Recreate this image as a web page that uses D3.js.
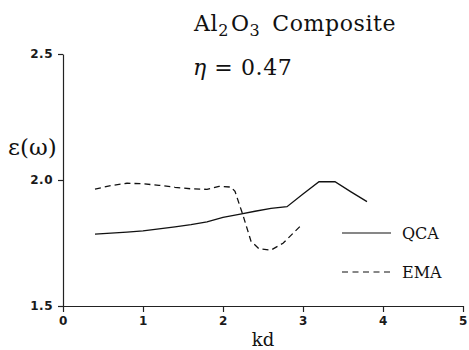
<!DOCTYPE html>
<html>
<head>
<meta charset="utf-8">
<script src="https://cdn.jsdelivr.net/npm/d3@7"></script>
<style>
  body { margin: 0; background: #fff; }
  .axis path, .axis line { stroke: #222; stroke-width: 1.2px; }
  .axis text { font-family: "DejaVu Sans", sans-serif; font-size: 12px; font-weight: bold; fill: #1a1a1a; letter-spacing: 0.5px; }
</style>
</head>
<body>
<svg id="chart"></svg>
<script>
// data
var kdQCA = [0.4, 0.6, 0.8, 1.0, 1.2, 1.4, 1.6, 1.8, 2.0, 2.2, 2.4, 2.6, 2.8, 3.0, 3.2, 3.4, 3.6, 3.8];
var epsQCA = [1.785, 1.789, 1.793, 1.798, 1.806, 1.814, 1.823, 1.834, 1.852, 1.864, 1.876, 1.887, 1.894, 1.944, 1.993, 1.993, 1.953, 1.914];

var kdEMA = [0.4, 0.6, 0.8, 1.0, 1.2, 1.4, 1.6, 1.8, 1.95, 2.1, 2.15, 2.25, 2.35, 2.45, 2.6, 2.75, 2.96];
var epsEMA = [1.964, 1.978, 1.987, 1.985, 1.979, 1.971, 1.965, 1.963, 1.975, 1.972, 1.955, 1.86, 1.757, 1.727, 1.722, 1.749, 1.815];

var xTicks = [0, 1, 2, 3, 4, 5];
var yTicks = [1.5, 2.0, 2.5];
var seriesNames = ["QCA", "EMA"];

var W = 469, H = 350;
var margin = { top: 54, right: 6, bottom: 44, left: 63 },
    width = W - margin.left - margin.right,
    height = H - margin.top - margin.bottom;

var svg = d3.select("#chart").attr("width", W).attr("height", H);
var g = svg.append("g")
    .attr("transform", "translate(" + margin.left + "," + margin.top + ")");

var x = d3.scaleLinear().domain([0, 5]).range([0, 400]);
var y = d3.scaleLinear().domain([1.5, 2.5]).range([252, 0]);

// axes
g.append("g")
    .attr("class", "axis")
    .attr("transform", "translate(0,252)")
    .call(d3.axisBottom(x).tickValues(xTicks).tickFormat(d3.format("d")).tickSize(6).tickSizeOuter(0).tickPadding(4));

g.append("g")
    .attr("class", "axis")
    .call(d3.axisLeft(y).tickValues(yTicks).tickFormat(d3.format(".1f")).tickSize(5).tickSizeOuter(0).tickPadding(5));

// lines
var lineQ = d3.line().x((d, i) => x(kdQCA[i])).y(d => y(d));
var lineE = d3.line().x((d, i) => x(kdEMA[i])).y(d => y(d));

g.append("path")
    .attr("d", lineQ(epsQCA))
    .attr("fill", "none")
    .attr("stroke", "#111")
    .attr("stroke-width", 1.3);

g.append("path")
    .attr("d", lineE(epsEMA))
    .attr("fill", "none")
    .attr("stroke", "#111")
    .attr("stroke-width", 1.3)
    .attr("stroke-dasharray", "6,4");

// legend
var legend = svg.append("g");
seriesNames.forEach(function (name, i) {
    var ly = 233 + i * 39;
    legend.append("line")
        .attr("x1", 342).attr("x2", 391)
        .attr("y1", ly).attr("y2", ly)
        .attr("stroke", "#111")
        .attr("stroke-width", 1.2)
        .attr("stroke-dasharray", i == 1 ? "6,4.5" : null);
    legend.append("text")
        .attr("x", 402).attr("y", ly + 6)
        .attr("font-family", "DejaVu Serif, serif")
        .attr("font-size", 16)
        .attr("fill", "#111")
        .text(name);
});

// title
var title = svg.append("text")
    .attr("x", 194).attr("y", 31)
    .attr("font-family", "DejaVu Serif, serif")
    .attr("font-size", 22)
    .attr("letter-spacing", 0.6)
    .attr("fill", "#111");
title.append("tspan").text("Al");
title.append("tspan").attr("font-size", 16).attr("dy", 5).text("2");
title.append("tspan").attr("dy", -5).attr("dx", 2).text("O");
title.append("tspan").attr("font-size", 16).attr("dy", 5).text("3");
title.append("tspan").attr("dy", -5).attr("dx", 12).text("Composite");

var eta = svg.append("text")
    .attr("x", 193).attr("y", 75)
    .attr("font-family", "DejaVu Serif, serif")
    .attr("font-size", 22)
    .attr("letter-spacing", 0.6)
    .attr("fill", "#111");
eta.append("tspan").attr("font-style", "italic").text("η");
eta.append("tspan").text(" = 0.47");

// axis titles
svg.append("text")
    .attr("x", 8).attr("y", 155)
    .attr("font-family", "DejaVu Serif, serif")
    .attr("font-size", 23)
    .attr("fill", "#111")
    .text("ε(ω)");

svg.append("text")
    .attr("x", 263).attr("y", 346)
    .attr("text-anchor", "middle")
    .attr("font-family", "DejaVu Serif, serif")
    .attr("font-size", 18)
    .attr("fill", "#111")
    .text("kd");
</script>
</body>
</html>
